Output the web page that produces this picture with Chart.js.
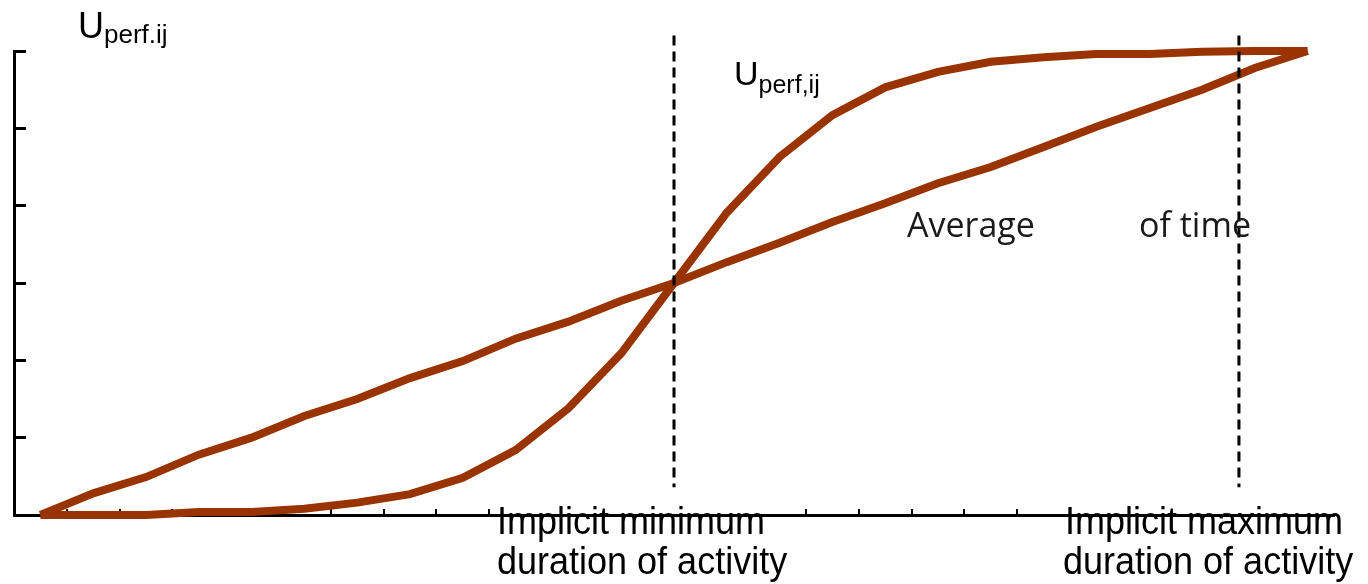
<!DOCTYPE html>
<html>
<head>
<meta charset="utf-8">
<script src="https://cdn.jsdelivr.net/npm/chart.js@4.4.1/dist/chart.umd.min.js"></script>
<style>
html, body { margin: 0; padding: 0; background: #fff; }
#wrap { width: 1368px; height: 584px; position: relative; }
</style>
</head>
<body>
<div id="wrap"><canvas id="utilityChart"></canvas></div>
<script>
// time steps along the x axis
const timeSteps = [0, 1, 2, 3, 4, 5, 6, 7, 8, 9, 10, 11, 12, 13, 14, 15, 16, 17, 18, 19, 20, 21, 22, 23, 24];

// the near straight curve and the S shaped curve
const linearUtility = [0, 0.28, 0.49, 0.78, 1.0, 1.28, 1.5, 1.77, 1.99, 2.28, 2.5, 2.77, 3.0, 3.27, 3.52, 3.79, 4.03, 4.29, 4.5, 4.76, 5.02, 5.26, 5.5, 5.78, 6.0];
const sCurveUtility = [0, 0, 0, 0.04, 0.04, 0.08, 0.16, 0.27, 0.48, 0.84, 1.38, 2.09, 3.0, 3.91, 4.63, 5.17, 5.53, 5.73, 5.86, 5.92, 5.96, 5.96, 5.99, 6.0, 6.0];

// axis ticks (the rest of the x ticks are hidden behind the captions)
const xTicks = [0.5, 1.5, 2.5, 3.5, 4.5, 5.5, 6.5, 7.5, 8.5, 14.5, 15.5, 16.5, 17.5, 18.5];
const yTicks = [0, 1, 2, 3, 4, 5, 6];

// dashed markers: implicit min / max duration
const minDuration = 12;
const maxDuration = 22.7;
const markerRange = [6.2, 0.36];

const brown = '#993300';

const textLabels = {
    id: 'textLabels',
    afterDraw(chart) {
        const ctx = chart.ctx;
        ctx.save();
        ctx.fillStyle = '#000';
        ctx.textBaseline = 'alphabetic';
        ctx.textAlign = 'left';

        const sub = (main, small, x, y, bigSize, smallSize, drop) => {
            ctx.font = bigSize + 'px "Liberation Sans", Arial, sans-serif';
            ctx.fillText(main, x, y);
            const w = ctx.measureText(main).width;
            ctx.font = smallSize + 'px "Liberation Sans", Arial, sans-serif';
            ctx.fillText(small, x + w, y + drop);
        };
        sub('U', 'perf.ij', 78, 38, 36, 26, 5);
        sub('U', 'perf,ij', 734, 85, 34, 25, 8);

        // captions under the axis are a bit taller than plain Arial
        const tall = (txt, x, y) => {
            ctx.save();
            ctx.translate(x, y);
            ctx.scale(1, 1.08);
            ctx.fillText(txt, 0, 0);
            ctx.restore();
        };
        ctx.font = '36px "Liberation Sans", Arial, sans-serif';
        tall('Implicit minimum', 497, 534);
        tall('duration of activity', 497, 574);
        tall('Implicit maximum', 1065, 534);
        tall('duration of activity', 1063, 574);

        ctx.fillStyle = '#1a1a1a';
        ctx.font = '34px "Open Sans", sans-serif';
        ctx.fillText('Average', 907, 237);
        ctx.fillText('of time', 1139, 237);
        ctx.restore();
    }
};

const ctx = document.getElementById('utilityChart');

new Chart(ctx, {
    type: 'line',
    data: {
        datasets: [
            {
                label: 'min',
                data: markerRange.map(v => ({ x: minDuration, y: v })),
                borderColor: '#000',
                borderWidth: 3,
                borderDash: [10, 6],
                pointRadius: 0,
                clip: false
            },
            {
                label: 'max',
                data: markerRange.map(v => ({ x: maxDuration, y: v })),
                borderColor: '#000',
                borderWidth: 3,
                borderDash: [10, 6],
                pointRadius: 0,
                clip: false
            },
            {
                label: 'linear',
                data: timeSteps.map((t, i) => ({ x: t, y: linearUtility[i] })),
                borderColor: brown,
                borderWidth: 8,
                pointRadius: 0,
                tension: 0,
                clip: false
            },
            {
                label: 's-curve',
                data: timeSteps.map((t, i) => ({ x: t, y: sCurveUtility[i] })),
                borderColor: brown,
                borderWidth: 8,
                pointRadius: 0,
                tension: 0,
                clip: false
            }
        ]
    },
    options: {
        responsive: true,
        maintainAspectRatio: false,
        animation: false,
        devicePixelRatio: 1,
        layout: {
            padding: { left: 14, top: 51, right: 34, bottom: 69 }
        },
        plugins: {
            legend: { display: false },
            tooltip: { enabled: false }
        },
        scales: {
            x: {
                type: 'linear',
                min: -0.5,
                max: 24.5,
                afterBuildTicks: axis => { axis.ticks = xTicks.map(v => ({ value: v })); },
                afterFit: axis => { axis.height = 0; },
                ticks: { display: false },
                grid: {
                    drawOnChartArea: false,
                    tickLength: -6,
                    color: '#000',
                    lineWidth: 2
                },
                border: { display: true, color: '#000', width: 3 }
            },
            y: {
                type: 'linear',
                min: 0,
                max: 6,
                afterBuildTicks: axis => { axis.ticks = yTicks.map(v => ({ value: v })); },
                afterFit: axis => { axis.width = 0; },
                ticks: { display: false },
                grid: {
                    drawOnChartArea: false,
                    tickLength: -12,
                    color: '#000',
                    lineWidth: 3
                },
                border: { display: true, color: '#000', width: 3 }
            }
        }
    },
    plugins: [textLabels]
});
</script>
</body>
</html>
